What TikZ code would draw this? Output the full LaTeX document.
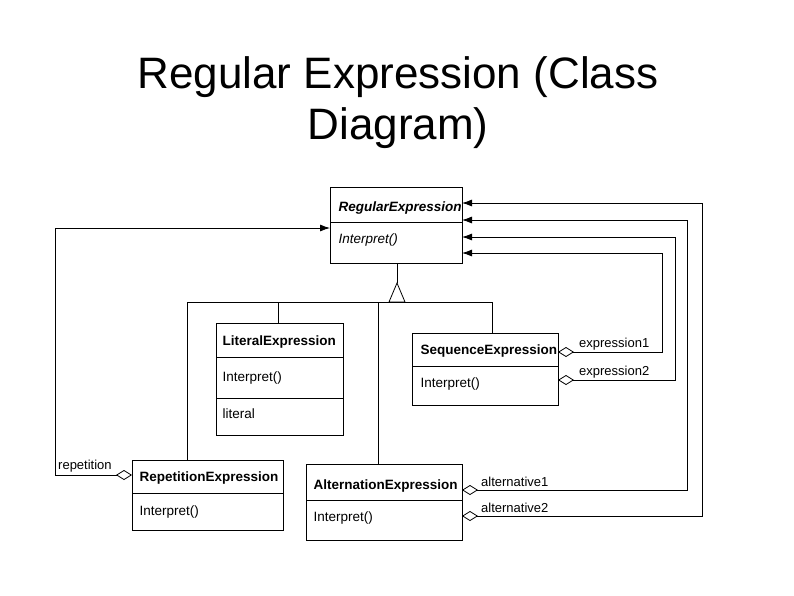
\documentclass[tikz,border=0pt]{standalone}
\usepackage{fontspec}
\setmainfont{Liberation Sans}
\usetikzlibrary{arrows.meta}
\begin{document}
\begin{tikzpicture}[x=1pt,y=-1pt,
  box/.style={draw,thick,fill=white},
  ln/.style={thick},
  agg/.style={thick,{Diamond[open,length=16pt,width=10pt]}-{Latex[length=10pt,width=7pt]}},
  lbl/.style={font=\fontsize{13}{15}\selectfont,inner sep=1pt},
  cname/.style={font=\fontsize{13.5}{15}\selectfont\bfseries,anchor=west},
  op/.style={font=\fontsize{13.5}{15}\selectfont,anchor=west}]
\useasboundingbox (0,0) rectangle (794,595);
\node (t1) at (398,77) {\fontsize{44}{50}\selectfont Regular Expression (Class};
\node (t2) at (398,128) {\fontsize{44}{50}\selectfont Diagram)};
% RegularExpression
\draw[box] (330,187) rectangle (462,263); \draw[ln] (330,222)--(462,222);
\node[cname] at (335,208) {\itshape RegularExpression};
\node[op] at (335,240) {\itshape Interpret()};
\coordinate (reL) at (330,228);
\coordinate (r1) at (462,203); \coordinate (r2) at (462,220);
\coordinate (r3) at (462,237); \coordinate (r4) at (462,253);
% Literal
\draw[box] (216,323) rectangle (343,435); \draw[ln] (216,357)--(343,357); \draw[ln] (216,398)--(343,398);
\node[cname] at (219,342) {LiteralExpression};
\node[op] at (219,378) {Interpret()};
\node[op] at (219,414) {literal};
% Sequence
\draw[box] (412,333) rectangle (558,405); \draw[ln] (412,366)--(558,366);
\node[cname] at (417,351) {SequenceExpression};
\node[op] at (417,384) {Interpret()};
% Repetition
\draw[box] (132,460) rectangle (283,530); \draw[ln] (132,493)--(283,493);
\node[cname] at (136,478) {RepetitionExpression};
\node[op] at (136,512) {Interpret()};
% Alternation
\draw[box] (306,464) rectangle (462,540); \draw[ln] (306,500)--(462,500);
\node[cname] at (310,486) {AlternationExpression};
\node[op] at (310,518) {Interpret()};
% inheritance
\draw[ln] (397,263)--(397,283);
\draw[ln,fill=white] (397,283)--(389,302)--(405,302)--cycle;
\draw[ln] (187,302)--(492,302);
\draw[ln] (187,302)--(187,460);
\draw[ln] (278,302)--(278,323);
\draw[ln] (378,302)--(378,464);
\draw[ln] (492,302)--(492,333);
% aggregations
\draw[agg] (132,475)--(55,475)--(55,228)--(reL);
\node[lbl,anchor=south west] at (57,473) {repetition};
\draw[agg] (558,352)--(662,352)--(662,253)--(r4);
\node[lbl,anchor=south west] at (578,351) {expression1};
\draw[agg] (558,380)--(675,380)--(675,237)--(r3);
\node[lbl,anchor=south west] at (578,379) {expression2};
\draw[agg] (462,490)--(687,490)--(687,220)--(r2);
\node[lbl,anchor=south west] at (480,488) {alternative1};
\draw[agg] (462,516)--(702,516)--(702,203)--(r1);
\node[lbl,anchor=south west] at (480,514) {alternative2};
\end{tikzpicture}
\end{document}
